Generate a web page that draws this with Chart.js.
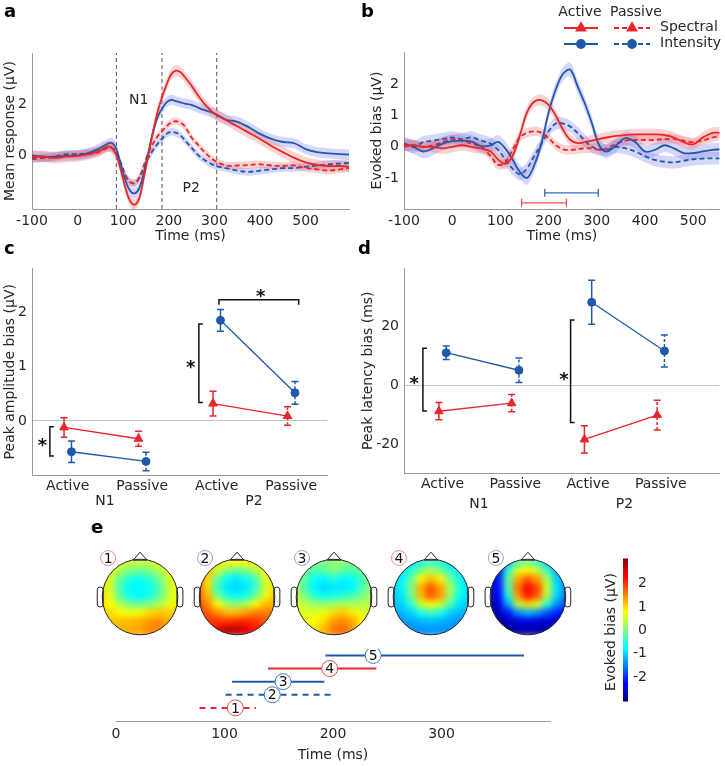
<!DOCTYPE html>
<html>
<head>
<meta charset="utf-8">
<script src="https://cdn.jsdelivr.net/npm/chart.js@4.4.1/dist/chart.umd.min.js"></script>
<style>
  html, body { margin: 0; padding: 0; background: #fff; }
  #fig { position: relative; width: 725px; height: 766px; overflow: hidden; font-family: 'DejaVu Sans', sans-serif; }
  canvas { position: absolute; }
  .tag { position: absolute; font-weight: bold; font-size: 18px; line-height: 18px; color: #000; }
</style>
</head>
<body>
<div id="fig">
  <canvas id="ca" width="360" height="245" style="left:0;top:0"></canvas>
  <canvas id="cb" width="365" height="245" style="left:360px;top:0"></canvas>
  <canvas id="cc" width="360" height="260" style="left:0;top:255px"></canvas>
  <canvas id="cd" width="365" height="260" style="left:360px;top:255px"></canvas>
  <canvas id="ce" width="500" height="100" style="left:84px;top:547px"></canvas>
  <canvas id="cbar" width="110" height="170" style="left:560px;top:545px"></canvas>
  <canvas id="ctl" width="480" height="126" style="left:90px;top:640px"></canvas>
  <div class="tag" style="left:4px;top:2px">a</div>
  <div class="tag" style="left:361px;top:2px">b</div>
  <div class="tag" style="left:4px;top:239px">c</div>
  <div class="tag" style="left:358px;top:239px">d</div>
  <div class="tag" style="left:91px;top:518px">e</div>
</div>
<script>
// ---- panel a: mean responses
const tA = [-100,-75,-50,-25,0,25,50,65,75,85,95,105,115,125,135,145,155,165,175,185,195,205,215,225,235,250,265,280,300,325,350,375,400,425,450,475,500,525,550,575,595];
const aSpecAct = [-0.05,-0.05,-0.1,-0.05,-0.02,0.05,0.2,0.35,0.3,0.0,-0.6,-1.3,-1.8,-1.95,-1.7,-0.9,0.0,0.9,1.7,2.3,2.8,3.2,3.35,3.3,3.1,2.75,2.35,2.0,1.65,1.4,1.15,0.9,0.65,0.37,0.13,-0.1,-0.28,-0.38,-0.42,-0.42,-0.45];
const aIntAct = [0.0,-0.05,-0.05,-0.02,0.0,0.1,0.3,0.45,0.5,0.25,-0.4,-1.0,-1.4,-1.5,-1.3,-0.7,0.1,0.9,1.5,1.85,2.1,2.2,2.15,2.1,2.05,2.0,1.88,1.78,1.66,1.42,1.33,1.12,0.85,0.65,0.53,0.48,0.25,0.13,0.08,0.05,0.03];
const aSpecPas = [-0.1,-0.1,-0.05,0.0,0.0,0.05,0.15,0.3,0.3,0.1,-0.4,-0.8,-1.05,-1.1,-0.9,-0.4,0.1,0.45,0.75,0.95,1.15,1.3,1.35,1.3,1.15,0.7,0.4,0.1,-0.2,-0.4,-0.4,-0.38,-0.35,-0.4,-0.42,-0.4,-0.5,-0.55,-0.6,-0.55,-0.5];
const aIntPas = [-0.15,-0.1,-0.05,0.05,0.05,0.1,0.2,0.3,0.3,0.1,-0.3,-0.8,-1.05,-1.1,-0.9,-0.5,-0.1,0.2,0.45,0.65,0.85,0.93,0.9,0.8,0.6,0.3,0.0,-0.2,-0.4,-0.5,-0.6,-0.65,-0.6,-0.55,-0.5,-0.5,-0.45,-0.4,-0.35,-0.32,-0.3];
const aSE = [0.22, 0.2, 0.15, 0.15];
const aWindows = [85, 185, 305];
const aXTicks = [-100,0,100,200,300,400,500];
const aYTicks = [0, 2];

// ---- panel b: evoked bias
const tB = [-100,-80,-60,-40,-20,0,20,40,60,80,95,110,125,140,155,170,185,200,215,230,245,260,275,290,305,320,340,360,380,400,420,440,460,480,500,520,540,555];
const bSpecAct = [0.05,0.05,0.0,0.0,-0.05,0.0,0.05,0.0,-0.05,-0.15,-0.4,-0.55,-0.3,0.35,1.1,1.45,1.5,1.35,1.0,0.55,0.22,0.12,0.15,0.2,0.25,0.3,0.35,0.38,0.4,0.4,0.4,0.38,0.3,0.15,0.08,0.3,0.45,0.45];
const bIntAct = [0.1,0.0,-0.15,-0.05,0.1,0.18,0.2,0.17,0.02,0.05,0.16,-0.05,-0.4,-0.8,-1.0,-0.6,0.1,1.1,1.85,2.35,2.48,1.95,1.4,0.75,0.05,-0.15,0.05,0.28,0.15,-0.15,-0.1,0.05,-0.05,-0.2,-0.2,-0.15,-0.1,-0.08];
const bSpecPas = [0.0,0.05,0.0,0.05,0.15,0.25,0.2,0.1,0.0,-0.3,-0.58,-0.5,-0.1,0.3,0.45,0.5,0.45,0.28,0.05,-0.08,-0.1,-0.08,-0.05,-0.05,-0.1,-0.05,0.1,0.2,0.22,0.22,0.22,0.25,0.25,0.2,0.15,0.2,0.3,0.35];
const bIntPas = [0.1,0.0,0.15,0.2,0.25,0.3,0.25,0.3,0.2,0.1,-0.1,-0.4,-0.7,-0.88,-0.7,-0.3,0.1,0.5,0.75,0.75,0.65,0.45,0.2,0.0,-0.08,-0.1,0.0,-0.05,-0.15,-0.3,-0.42,-0.48,-0.5,-0.45,-0.4,-0.38,-0.37,-0.37];
const bSE = [0.18, 0.22, 0.15, 0.2];
const bWinStart = [192, 144];
const bWinEnd = [303, 237];
const bWinLevel = [-1.48, -1.8];
const bXTicks = [-100,0,100,200,300,400,500];
const bYTicks = [-1, 0, 1, 2];
const legendCols = ['Active', 'Passive'];
const legendRows = ['Spectral', 'Intensity'];

// ---- panels c and d: peak biases (Active N1, Passive N1, Active P2, Passive P2)
const catLabels = ['Active', 'Passive', 'Active', 'Passive'];
const catGroups = ['N1', 'P2'];
const cSpecMean = [-0.12, -0.33, 0.32, 0.09];
const cSpecErr = [0.18, 0.14, 0.23, 0.17];
const cIntMean = [-0.57, -0.75, 1.86, 0.52];
const cIntErr = [0.2, 0.17, 0.2, 0.21];
const dSpecMean = [-8.7, -6.0, -18.2, -10.0];
const dSpecErr = [2.9, 2.9, 4.6, 5.0];
const dIntMean = [11.0, 5.1, 28.0, 11.6];
const dIntErr = [2.3, 4.1, 7.4, 5.4];

// ---- panel e: topographies (9x9 grid, rows top to bottom) and time windows
const gridStep = [-0.4,-0.3,-0.2,-0.1,0,0.1,0.2,0.3,0.4];
const map1 = [
  [0.8,0.7,0.6,0.5,0.5,0.5,0.6,0.7,0.8],
  [0.8,0.6,0.3,0.0,-0.1,0.0,0.3,0.6,0.8],
  [0.9,0.5,-0.2,-0.6,-0.7,-0.5,-0.1,0.5,0.8],
  [1.0,0.5,-0.4,-0.8,-0.8,-0.7,-0.3,0.4,0.8],
  [1.0,0.6,-0.2,-0.7,-0.8,-0.6,-0.2,0.4,0.8],
  [1.0,0.8,0.3,0.0,-0.1,0.0,0.3,0.6,0.9],
  [1.1,1.0,0.8,0.7,0.8,1.0,1.1,1.1,1.1],
  [1.1,1.1,1.2,1.2,1.3,1.4,1.5,1.3,1.2],
  [1.1,1.1,1.2,1.3,1.3,1.5,1.5,1.4,1.2]];
const map2 = [
  [1.5,1.3,1.0,0.8,0.8,0.8,0.9,1.0,1.2],
  [1.6,1.2,0.5,0.0,-0.2,0.0,0.3,0.8,1.1],
  [1.7,1.0,-0.2,-0.7,-0.9,-0.7,-0.3,0.6,1.0],
  [1.8,1.0,-0.4,-0.9,-1.0,-0.9,-0.4,0.5,1.0],
  [1.8,1.2,0.0,-0.6,-0.8,-0.6,-0.1,0.7,1.1],
  [1.9,1.5,0.8,0.3,0.1,0.3,0.8,1.2,1.3],
  [2.0,1.8,1.5,1.2,1.2,1.4,1.6,1.6,1.5],
  [2.0,2.0,2.0,2.0,2.1,2.1,2.0,1.8,1.7],
  [2.0,2.1,2.4,2.7,2.7,2.5,2.2,2.0,1.8]];
const map3 = [
  [0.2,0.1,0.0,0.0,0.1,0.1,0.0,0.0,0.1],
  [0.3,0.0,-0.3,-0.2,0.0,-0.2,-0.3,-0.1,0.1],
  [0.3,-0.2,-0.7,-0.8,-0.6,-0.8,-0.7,-0.3,0.1],
  [0.4,-0.3,-0.8,-1.0,-0.9,-0.9,-0.8,-0.3,0.2],
  [0.5,0.0,-0.5,-0.7,-0.6,-0.5,-0.3,0.0,0.3],
  [0.6,0.4,0.2,0.1,0.2,0.3,0.3,0.3,0.4],
  [0.7,0.6,0.6,0.7,1.0,1.1,0.9,0.6,0.5],
  [0.7,0.7,0.8,1.0,1.4,1.5,1.3,0.8,0.6],
  [0.7,0.7,0.9,1.2,1.6,1.7,1.4,0.9,0.6]];
const map4 = [
  [-1.0,-1.0,-0.9,-0.6,-0.4,-0.6,-0.9,-1.0,-1.0],
  [-1.0,-0.9,-0.5,0.0,0.3,0.0,-0.5,-0.9,-1.0],
  [-1.1,-0.8,-0.2,0.8,1.2,0.8,0.0,-0.7,-1.0],
  [-1.1,-0.8,0.0,1.3,1.8,1.4,0.3,-0.6,-1.0],
  [-1.1,-0.9,-0.1,1.2,1.8,1.4,0.2,-0.7,-1.0],
  [-1.2,-1.0,-0.5,0.4,0.8,0.5,-0.3,-0.9,-1.1],
  [-1.3,-1.2,-1.0,-0.6,-0.4,-0.6,-1.0,-1.2,-1.2],
  [-1.4,-1.4,-1.3,-1.2,-1.1,-1.2,-1.3,-1.4,-1.4],
  [-1.5,-1.5,-1.4,-1.4,-1.4,-1.4,-1.4,-1.5,-1.5]];
const map5 = [
  [-2.6,-2.3,-1.2,-0.3,0.0,-0.4,-1.0,-1.5,-1.8],
  [-2.7,-2.2,-0.5,0.6,0.8,0.5,-0.4,-1.2,-1.6],
  [-2.8,-2.1,-0.2,1.3,1.8,1.4,0.3,-1.0,-1.5],
  [-2.8,-2.2,-0.3,1.6,2.3,1.9,0.5,-0.9,-1.5],
  [-2.9,-2.3,-0.6,1.4,2.2,1.8,0.4,-1.0,-1.6],
  [-2.9,-2.5,-1.3,0.3,1.0,0.6,-0.5,-1.4,-1.9],
  [-3.0,-2.7,-2.2,-1.5,-1.2,-1.4,-1.8,-2.1,-2.3],
  [-3.0,-2.9,-2.7,-2.5,-2.4,-2.5,-2.6,-2.6,-2.6],
  [-3.0,-3.0,-2.9,-2.8,-2.8,-2.8,-2.8,-2.8,-2.8]];
const maps = [map1, map2, map3, map4, map5];
const mapNames = ['1', '2', '3', '4', '5'];
const winStart = [77, 101, 107, 140, 193];
const winEnd = [129, 201, 192, 240, 376];
const winMark = [110, 144, 154, 197, 237];
const winLevel = [1, 2, 3, 4, 5];
const tlTicks = [0, 100, 200, 300];
const cbTicks = [-2, -1, 0, 1, 2];
const cbMin = -3.05, cbMax = 3.08;

// ---- styling
const red = '#e8262b', blue = '#1f5aa8';
const redBand = 'rgba(240,110,110,0.3)', blueBand = 'rgba(120,120,235,0.3)';
const redRing = '#f08a8a', blueRing = '#9c9cec';
const axisGray = '#999';
const winColor = [red, blue, blue, red, blue];
const winDashed = [true, true, false, false, false];
const FONT = "'DejaVu Sans', sans-serif";

Chart.defaults.font.family = FONT;
Chart.defaults.font.size = 14;
Chart.defaults.color = '#262626';
Chart.defaults.animation = false;
Chart.defaults.responsive = false;
Chart.defaults.devicePixelRatio = 1;
Chart.defaults.plugins.legend.display = false;
Chart.defaults.plugins.tooltip.enabled = false;

const fixTicks = vals => s => { s.ticks = vals.map(v => ({ value: v })); };
const pts = (xs, ys) => xs.map((x, i) => ({ x, y: ys[i] }));

function jet(v) {
  const f = Math.min(1, Math.max(0, (v - cbMin) / (cbMax - cbMin)));
  const c = k => Math.round(255 * Math.min(1, Math.max(0, 1.5 - Math.abs(4 * f - k))));
  return `rgb(${c(3)},${c(2)},${c(1)})`;
}

function curve(xs, ys, color, dashed) {
  return { data: pts(xs, ys), borderColor: color, borderWidth: 1.8, borderDash: dashed ? [5, 3] : [],
    pointRadius: 0, tension: 0.35, fill: false, order: 0 };
}
function band(xs, ys, half, color) {
  return [
    { data: xs.map((x, i) => ({ x, y: ys[i] + half })), borderColor: 'transparent', borderWidth: 0, pointRadius: 0, tension: 0.35, fill: false, order: 1 },
    { data: xs.map((x, i) => ({ x, y: ys[i] - half })), borderColor: 'transparent', borderWidth: 0, pointRadius: 0, tension: 0.35, fill: '-1', backgroundColor: color, order: 1 }
  ];
}

const notes = {
  id: 'notes',
  afterDatasetsDraw(chart, args, o) {
    const { ctx, scales: { x, y } } = chart;
    ctx.save();
    (o.items || []).forEach(n => {
      ctx.font = n.font || `14px ${FONT}`;
      ctx.fillStyle = n.color || '#262626';
      ctx.textAlign = 'center';
      ctx.textBaseline = 'middle';
      ctx.fillText(n.text, x.getPixelForValue(n.x), y.getPixelForValue(n.y) + (n.dy || 0));
    });
    ctx.restore();
  }
};

function timeAxis(min, max, ticks, height) {
  return { type: 'linear', min, max, afterBuildTicks: fixTicks(ticks), grid: { display: false, drawTicks: false },
    border: { color: axisGray }, ticks: { padding: 4 },
    title: { display: true, text: 'Time (ms)', padding: { top: 0, bottom: 0 } },
    afterFit: s => { s.height = height; } };
}
function valueAxis(min, max, ticks, title, width, titlePad) {
  return { min, max, afterBuildTicks: fixTicks(ticks), grid: { display: false, drawTicks: false },
    border: { color: axisGray }, ticks: { padding: 5 },
    title: { display: true, text: title, padding: { top: titlePad, bottom: 0 } },
    afterFit: s => { s.width = width; } };
}

// ---------- panel a
new Chart(document.getElementById('ca'), {
  type: 'line',
  data: { datasets: [
    curve(tA, aSpecAct, red, false), curve(tA, aIntAct, blue, false),
    curve(tA, aSpecPas, red, true), curve(tA, aIntPas, blue, true),
    ...band(tA, aSpecAct, aSE[0], redBand), ...band(tA, aIntAct, aSE[1], blueBand),
    ...band(tA, aSpecPas, aSE[2], redBand), ...band(tA, aIntPas, aSE[3], blueBand),
    ...aWindows.map(w => ({ data: [{ x: w, y: -2.12 }, { x: w, y: 4.05 }], borderColor: '#555', borderWidth: 1,
      borderDash: [4, 3], pointRadius: 0, order: 2 }))
  ] },
  options: {
    layout: { padding: { top: 53, right: 11, left: 0, bottom: 0 } },
    scales: {
      x: timeAxis(-100, 595, aXTicks, 36),
      y: valueAxis(-2.12, 4.05, aYTicks, 'Mean response (μV)', 32, 2)
    },
    plugins: { notes: { items: [{ text: 'N1', x: 134, y: 2.16 }, { text: 'P2', x: 249, y: -1.32 }] } }
  },
  plugins: [notes]
});

// ---------- panel b
const legendB = {
  id: 'legendB',
  afterDraw(chart) {
    const ctx = chart.ctx;
    ctx.save();
    ctx.font = `14px ${FONT}`;
    ctx.fillStyle = '#262626';
    ctx.textBaseline = 'middle';
    ctx.textAlign = 'center';
    ctx.fillText(legendCols[0], 220, 12);
    ctx.fillText(legendCols[1], 276, 12);
    ctx.textAlign = 'left';
    const rows = [{ y: 28, color: red, style: 'triangle', r: 5 }, { y: 44, color: blue, style: 'circle', r: 4 }];
    rows.forEach((row, i) => {
      ctx.fillStyle = '#262626';
      ctx.fillText(legendRows[i], 300, row.y - 1);
      ctx.strokeStyle = row.color;
      ctx.fillStyle = row.color;
      ctx.lineWidth = 1.8;
      [[204, 238, []], [254, 290, [5, 3]]].forEach(([x1, x2, dash]) => {
        ctx.setLineDash(dash);
        ctx.beginPath(); ctx.moveTo(x1, row.y); ctx.lineTo(x2, row.y); ctx.stroke();
        ctx.setLineDash([]);
        Chart.helpers.drawPoint(ctx, { pointStyle: row.style, radius: row.r, borderWidth: 1, rotation: 0 }, (x1 + x2) / 2, row.y);
      });
    });
    ctx.restore();
  }
};
new Chart(document.getElementById('cb'), {
  type: 'line',
  data: { datasets: [
    curve(tB, bSpecAct, red, false), curve(tB, bIntAct, blue, false),
    curve(tB, bSpecPas, red, true), curve(tB, bIntPas, blue, true),
    ...band(tB, bSpecAct, bSE[0], redBand), ...band(tB, bIntAct, bSE[1], blueBand),
    ...band(tB, bSpecPas, bSE[2], redBand), ...band(tB, bIntPas, bSE[3], blueBand),
    ...bWinStart.map((s, i) => ({ data: [{ x: s, y: bWinLevel[i] }, { x: bWinEnd[i], y: bWinLevel[i] }],
      borderColor: i === 0 ? '#2f6fc0' : '#f05050', borderWidth: 1.3, pointStyle: 'line', pointRotation: 90,
      pointRadius: 4, pointBorderWidth: 1.3, pointBorderColor: i === 0 ? '#2f6fc0' : '#f05050', order: 0 }))
  ] },
  options: {
    layout: { padding: { top: 52, right: 4, left: 0, bottom: 0 } },
    scales: {
      x: timeAxis(-100, 555, bXTicks, 36),
      y: valueAxis(-2.0, 3.05, bYTicks, 'Evoked bias (μV)', 44, 9)
    }
  },
  plugins: [legendB]
});

// ---------- panels c and d
const redOff = -0.05, blueOff = 0.05;
function pairs(means, off, color, style, radius) {
  return [0, 2].map(g => ({ data: [{ x: g + 1 + off, y: means[g] }, { x: g + 2 + off, y: means[g + 1] }],
    borderColor: color, borderWidth: 1.3, pointStyle: style, pointRadius: radius,
    pointBackgroundColor: color, pointBorderColor: color, pointBorderWidth: 1, order: 0 }));
}
function errBars(means, errs, off, color) {
  return means.map((m, i) => ({ data: [{ x: i + 1 + off, y: m - errs[i] }, { x: i + 1 + off, y: m + errs[i] }],
    borderColor: color, borderWidth: 1.5, borderDash: i % 2 ? [3, 2] : [], pointStyle: 'line', pointRadius: 3.5,
    pointBorderWidth: 1.5, pointBorderColor: color, order: 1 }));
}
const catDecor = {
  id: 'catDecor',
  afterDatasetsDraw(chart, args, o) {
    const { ctx, chartArea, scales: { x, y } } = chart;
    ctx.save();
    ctx.strokeStyle = '#111';
    ctx.lineWidth = 1.5;
    o.brackets.forEach(b => {
      const px = x.getPixelForValue(b.x), y1 = y.getPixelForValue(b.y1), y2 = y.getPixelForValue(b.y2);
      ctx.beginPath(); ctx.moveTo(px + 4, y1); ctx.lineTo(px, y1); ctx.lineTo(px, y2); ctx.lineTo(px + 4, y2); ctx.stroke();
    });
    (o.top || []).forEach(b => {
      const x1 = x.getPixelForValue(b.x1), x2 = x.getPixelForValue(b.x2), py = y.getPixelForValue(b.y);
      ctx.beginPath(); ctx.moveTo(x1, py + 5); ctx.lineTo(x1, py); ctx.lineTo(x2, py); ctx.lineTo(x2, py + 5); ctx.stroke();
    });
    ctx.fillStyle = '#111';
    ctx.textAlign = 'center';
    ctx.textBaseline = 'alphabetic';
    ctx.font = `bold 18px ${FONT}`;
    o.stars.forEach(s => ctx.fillText('*', x.getPixelForValue(s.x), y.getPixelForValue(s.y) + 10));
    ctx.font = `14px ${FONT}`;
    ctx.fillStyle = '#262626';
    ctx.textBaseline = 'middle';
    catGroups.forEach((g, i) => ctx.fillText(g, x.getPixelForValue(2 * i + 1.5), chartArea.bottom + o.groupDy));
    ctx.restore();
  }
};
function catPanel(id, c) {
  return new Chart(document.getElementById(id), {
    type: 'line',
    data: { datasets: [
      ...pairs(c.spec, redOff, red, 'triangle', 5), ...pairs(c.int, blueOff, blue, 'circle', 4),
      ...errBars(c.spec, c.specErr, redOff, red), ...errBars(c.int, c.intErr, blueOff, blue)
    ] },
    options: {
      layout: { padding: { top: 10, right: c.padRight, left: 0, bottom: 0 } },
      scales: {
        x: { type: 'linear', min: c.xMin, max: c.xMax, afterBuildTicks: fixTicks([1, 2, 3, 4]),
          grid: { display: false, drawTicks: false }, border: { color: axisGray },
          ticks: { padding: 3, callback: v => catLabels[Math.round(v) - 1] },
          afterFit: s => { s.height = c.xAxisH; } },
        y: { min: c.yMin, max: c.yMax, afterBuildTicks: fixTicks(c.yTicks),
          grid: { drawTicks: false, color: g => (g.tick && g.tick.value === 0 ? '#c4c4c4' : 'transparent') },
          border: { color: axisGray }, ticks: { padding: 5 },
          title: { display: true, text: c.yTitle, padding: { top: c.titlePad, bottom: 0 } },
          afterFit: s => { s.width = c.yAxisW; } }
      },
      plugins: { catDecor: { brackets: c.brackets, top: c.top, stars: c.stars, groupDy: c.groupDy } }
    },
    plugins: [catDecor]
  });
}
catPanel('cc', {
  spec: cSpecMean, specErr: cSpecErr, int: cIntMean, intErr: cIntErr,
  xMin: 0.52, xMax: 4.48, yMin: -1.0, yMax: 2.82, yTicks: [0, 1, 2],
  yTitle: 'Peak amplitude bias (μV)', yAxisW: 32, titlePad: 1.6, padRight: 33, xAxisH: 40, groupDy: 26,
  brackets: [{ x: 0.76, y1: -0.11, y2: -0.65 }, { x: 2.76, y1: 1.79, y2: 0.34 }],
  top: [{ x1: 3.03, x2: 4.10, y: 2.24 }],
  stars: [{ x: 0.66, y: -0.38 }, { x: 2.65, y: 1.08 }, { x: 3.59, y: 2.39 }]
});
catPanel('cd', {
  spec: dSpecMean, specErr: dSpecErr, int: dIntMean, intErr: dIntErr,
  xMin: 0.47, xMax: 4.80, yMin: -29.5, yMax: 39.4, yTicks: [-20, 0, 20],
  yTitle: 'Peak latency bias (ms)', yAxisW: 44, titlePad: 0, padRight: 2, xAxisH: 42, groupDy: 31,
  brackets: [{ x: 0.73, y1: 12.5, y2: -8.6 }, { x: 2.76, y1: 22, y2: -12.5 }],
  top: [],
  stars: [{ x: 0.61, y: 2 }, { x: 2.67, y: 3.6 }]
});

// ---------- panel e: topographies
const headR = 0.39;
const mapCenters = maps.map((m, k) => k + 0.5);
const heads = {
  id: 'heads',
  afterDatasetsDraw(chart) {
    const { ctx, canvas, scales: { x, y } } = chart;
    const snap = document.createElement('canvas');
    snap.width = canvas.width; snap.height = canvas.height;
    snap.getContext('2d').drawImage(canvas, 0, 0);
    const cy = y.getPixelForValue(0);
    const r = x.getPixelForValue(headR) - x.getPixelForValue(0);
    const cxs = mapCenters.map(c => x.getPixelForValue(c));
    ctx.save();
    ctx.clearRect(0, 0, canvas.width, canvas.height);
    ctx.beginPath();
    cxs.forEach(cx => { ctx.moveTo(cx + r, cy); ctx.arc(cx, cy, r, 0, Math.PI * 2); });
    ctx.clip();
    ctx.filter = 'blur(3px)';
    ctx.drawImage(snap, 0, 0);
    ctx.restore();
    ctx.save();
    ctx.strokeStyle = '#222';
    ctx.lineWidth = 1;
    cxs.forEach((cx, k) => {
      [-1, 1].forEach(s => {
        ctx.beginPath();
        ctx.roundRect(s < 0 ? cx - r - 5 : cx + r - 1, cy - 10, 6, 20, 3);
        ctx.fillStyle = '#fff'; ctx.fill(); ctx.stroke();
      });
      ctx.beginPath();
      ctx.moveTo(cx - 7, cy - r + 1); ctx.lineTo(cx, cy - r - 7); ctx.lineTo(cx + 7, cy - r + 1); ctx.closePath();
      ctx.fillStyle = '#fff'; ctx.fill(); ctx.stroke();
      ctx.beginPath(); ctx.arc(cx, cy, r, 0, Math.PI * 2); ctx.stroke();
      const lx = cx - 32, ly = cy - 39;
      ctx.beginPath(); ctx.arc(lx, ly, 7.5, 0, Math.PI * 2);
      ctx.fillStyle = '#fff'; ctx.fill();
      ctx.strokeStyle = winColor[k] === red ? redRing : blueRing; ctx.stroke();
      ctx.strokeStyle = '#222';
      ctx.fillStyle = '#111';
      ctx.font = `14px ${FONT}`;
      ctx.textAlign = 'center'; ctx.textBaseline = 'middle';
      ctx.fillText(mapNames[k], lx, ly + 1);
    });
    ctx.restore();
  }
};
new Chart(document.getElementById('ce'), {
  type: 'scatter',
  data: { datasets: maps.map((m, k) => ({
    data: m.flatMap((row, i) => row.map((v, j) => ({ x: mapCenters[k] + gridStep[j], y: -gridStep[i] }))),
    pointBackgroundColor: m.flat().map(jet), pointStyle: 'rect', pointRadius: 7.6, pointBorderWidth: 0
  })) },
  options: {
    layout: { padding: 0 },
    scales: { x: { type: 'linear', min: 0, max: 5, display: false }, y: { min: -0.5, max: 0.5, display: false } }
  },
  plugins: [heads]
});

// ---------- colour bar
const cbTitle = {
  id: 'cbTitle',
  afterDraw(chart) {
    const ctx = chart.ctx;
    ctx.save();
    ctx.translate(51, 87);
    ctx.rotate(-Math.PI / 2);
    ctx.font = `14px ${FONT}`;
    ctx.fillStyle = '#262626';
    ctx.textAlign = 'center'; ctx.textBaseline = 'middle';
    ctx.fillText('Evoked bias (μV)', 0, 0);
    ctx.restore();
  }
};
new Chart(document.getElementById('cbar'), {
  type: 'bar',
  data: { labels: [''], datasets: [{ data: [[cbMin, cbMax]], barPercentage: 1, categoryPercentage: 1, borderWidth: 0,
    backgroundColor: c => {
      const area = c.chart.chartArea;
      if (!area) return 'transparent';
      const g = c.chart.ctx.createLinearGradient(0, area.bottom, 0, area.top);
      for (let i = 0; i <= 24; i++) g.addColorStop(i / 24, jet(cbMin + (cbMax - cbMin) * i / 24));
      return g;
    } }] },
  options: {
    layout: { padding: { left: 63, top: 9, bottom: 8, right: 23 } },
    scales: {
      x: { display: false },
      y: { position: 'right', min: cbMin, max: cbMax, afterBuildTicks: fixTicks(cbTicks),
        grid: { display: false, drawTicks: false }, border: { display: false },
        ticks: { padding: 5, crossAlign: 'far' }, afterFit: s => { s.width = 19; } }
    }
  },
  plugins: [cbTitle]
});

// ---------- time windows of the topographies
new Chart(document.getElementById('ctl'), {
  type: 'line',
  data: { datasets: [
    ...winStart.map((s, k) => ({ data: [{ x: s, y: winLevel[k] }, { x: winEnd[k], y: winLevel[k] }],
      borderColor: winColor[k], borderWidth: 2, borderDash: winDashed[k] ? [6, 5] : [], pointRadius: 0, order: 1 })),
    { data: pts(winMark, winLevel), showLine: false, pointRadius: 8, pointBackgroundColor: '#fff',
      pointBorderColor: winColor.map(c => (c === red ? '#e84848' : '#3a78c8')), pointBorderWidth: 1, order: 0 }
  ] },
  options: {
    layout: { padding: { left: 26, right: 20, top: 8, bottom: 0 } },
    scales: {
      x: { type: 'linear', min: 0, max: 400, afterBuildTicks: fixTicks(tlTicks), grid: { display: false, drawTicks: false },
        border: { color: axisGray }, ticks: { padding: 5 },
        title: { display: true, text: 'Time (ms)', padding: { top: 0, bottom: 2.6 } },
        afterFit: s => { s.height = 45; } },
      y: { min: 0, max: 5.49, display: false }
    },
    plugins: { notes: { items: winMark.map((m, k) => ({ text: mapNames[k], x: m, y: winLevel[k], dy: 1, color: '#111' })) } }
  },
  plugins: [notes]
});
</script>
</body>
</html>
